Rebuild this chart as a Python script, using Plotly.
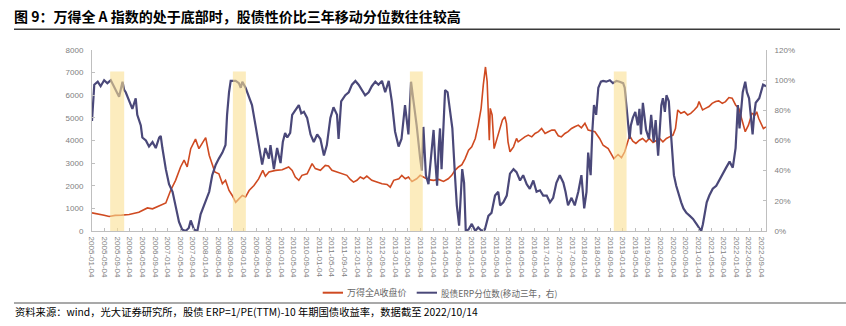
import plotly.graph_objects as go

# ---------------- data ----------------
wind_dates = [
    "2005-01-04", "2005-03-01", "2005-05-01", "2005-06-18", "2005-08-15", "2005-10-15", "2005-12-28",
    "2006-03-31", "2006-06-22", "2006-08-10", "2006-10-13", "2006-12-16", "2007-01-31", "2007-03-20",
    "2007-05-07", "2007-06-10", "2007-07-10", "2007-08-13", "2007-09-28", "2007-10-31", "2007-12-01",
    "2008-01-04", "2008-02-07", "2008-03-07", "2008-04-01", "2008-05-10", "2008-06-13", "2008-07-13",
    "2008-08-16", "2008-09-16", "2008-10-19", "2008-11-19", "2008-12-22", "2009-01-22", "2009-02-25",
    "2009-04-13", "2009-05-28", "2009-07-07", "2009-08-01", "2009-09-04", "2009-11-07", "2010-01-10",
    "2010-03-13", "2010-04-16", "2010-05-16", "2010-06-19", "2010-07-19", "2010-09-07", "2010-10-25",
    "2010-11-25", "2011-01-13", "2011-03-01", "2011-04-01", "2011-05-04", "2011-06-22", "2011-08-10",
    "2011-09-25", "2011-10-28", "2011-11-28", "2011-12-31", "2012-02-01", "2012-03-04", "2012-04-04",
    "2012-05-22", "2012-07-10", "2012-08-28", "2012-10-16", "2012-11-16", "2012-12-19", "2013-02-07",
    "2013-03-07", "2013-04-10", "2013-05-10", "2013-06-13", "2013-07-28", "2013-08-31", "2013-10-01",
    "2013-11-19", "2014-01-07", "2014-02-25", "2014-04-13", "2014-05-28", "2014-07-01", "2014-08-01",
    "2014-09-04", "2014-10-07", "2014-11-07", "2014-12-10", "2015-01-10", "2015-02-13", "2015-03-13",
    "2015-04-10", "2015-05-01", "2015-05-22", "2015-06-07", "2015-06-19", "2015-06-28", "2015-07-07",
    "2015-07-25", "2015-08-13", "2015-09-07", "2015-10-10", "2015-11-01", "2015-11-25", "2015-12-10",
    "2015-12-25", "2016-01-13", "2016-02-16", "2016-03-16", "2016-04-01", "2016-05-04", "2016-06-04",
    "2016-07-07", "2016-08-10", "2016-09-10", "2016-10-13", "2016-11-13", "2016-12-16", "2017-01-16",
    "2017-02-19", "2017-03-19", "2017-04-22", "2017-05-22", "2017-06-25", "2017-07-25", "2017-08-28",
    "2017-09-28", "2017-11-01", "2017-12-01", "2018-01-04", "2018-02-04", "2018-03-07", "2018-04-10",
    "2018-05-25", "2018-06-28", "2018-08-16", "2018-10-10", "2018-11-19", "2018-12-22", "2019-01-22",
    "2019-02-16", "2019-03-10", "2019-04-10", "2019-05-10", "2019-06-13", "2019-07-13", "2019-08-16",
    "2019-09-16", "2019-10-22", "2019-11-22", "2019-12-25", "2020-01-25", "2020-02-28", "2020-03-28",
    "2020-05-01", "2020-05-25", "2020-06-16", "2020-07-16", "2020-08-19", "2020-09-19", "2020-10-19",
    "2020-11-22", "2020-12-22", "2021-01-07", "2021-02-10", "2021-03-10", "2021-04-13", "2021-05-13",
    "2021-06-16", "2021-07-16", "2021-08-19", "2021-09-19", "2021-10-22", "2021-11-22", "2021-12-25",
    "2022-01-25", "2022-02-10", "2022-02-25", "2022-03-28", "2022-04-28", "2022-06-01", "2022-07-01",
    "2022-07-16", "2022-08-04", "2022-09-04", "2022-09-19", "2022-10-14",
]
wind_close = [
    800, 760, 700, 640, 690, 700, 726,
    830, 1020, 980, 1100, 1240, 1790, 2240,
    2830, 3130, 2830, 3640, 4060, 3640, 3870,
    4130, 3350, 2980, 2610, 2530, 2090, 2240,
    1790, 1570, 1270, 1420, 1570, 1500, 1790,
    2010, 2300, 2680, 2420, 2610, 2680, 2710,
    2830, 2680, 2385, 2240, 2460, 2530, 2980,
    2760, 2680, 2900, 2870, 2680, 2610, 2530,
    2460, 2280, 2160, 2240, 2385, 2310, 2430,
    2240, 2160, 2090, 2060, 1940, 2240, 2310,
    2460, 2310, 2385, 2190, 2310, 2460, 2385,
    2270, 2240, 2280, 2190, 2310, 2460, 2680,
    2830, 2930, 3200, 3570, 3720, 4090, 4680,
    5420, 6460, 7250, 6610, 4830, 4010, 5420,
    5130, 3640, 4010, 4530, 4900, 5050, 4760,
    3940, 3500, 3720, 4090, 3940, 4060, 4160,
    4240, 4160, 4310, 4390, 4530, 4310, 4390,
    4460, 4460, 4210, 4160, 4310, 4390, 4530,
    4610, 4680, 4560, 4760, 4460, 4410, 4390,
    4090, 3790, 3640, 3200, 3380, 3240, 3500,
    3940, 4210, 3970, 3870, 4010, 4090, 3940,
    4090, 3910, 4010, 4090, 3940, 4090, 4160,
    4240, 4530, 5350, 5200, 5270, 5130, 5200,
    5350, 5500, 5720, 5350, 5420, 5500, 5640,
    5720, 5750, 5640, 5720, 5900, 5870, 5570,
    5420, 5130, 4980, 4390, 4680, 5200, 5130,
    5270, 4980, 4680, 4530, 4600,
]

erp_dates = [
    "2005-01-04", "2005-01-17", "2005-01-26", "2005-02-28", "2005-03-28", "2005-05-01", "2005-06-01",
    "2005-07-04", "2005-07-19", "2005-08-22", "2005-09-22", "2005-10-25", "2005-11-10", "2005-11-25",
    "2005-12-28", "2006-01-28", "2006-03-01", "2006-03-16", "2006-04-19", "2006-05-04", "2006-06-07",
    "2006-07-07", "2006-08-10", "2006-09-10", "2006-10-13", "2006-10-28", "2006-11-13", "2006-12-16",
    "2007-01-16", "2007-02-19", "2007-03-19", "2007-04-22", "2007-05-22", "2007-06-25", "2007-07-25",
    "2007-08-13", "2007-09-13", "2007-10-16", "2007-11-16", "2007-12-10", "2008-01-04", "2008-02-07",
    "2008-03-07", "2008-04-10", "2008-05-10", "2008-06-13", "2008-07-13", "2008-07-28", "2008-08-16",
    "2008-09-01", "2008-10-19", "2008-11-19", "2008-12-07", "2008-12-22", "2009-01-22", "2009-02-25",
    "2009-03-25", "2009-04-28", "2009-05-28", "2009-07-01", "2009-08-01", "2009-09-04", "2009-09-19",
    "2009-10-22", "2009-11-22", "2009-12-25", "2010-01-16", "2010-02-07", "2010-02-28", "2010-03-28",
    "2010-04-16", "2010-05-16", "2010-06-19", "2010-07-13", "2010-08-07", "2010-09-07", "2010-10-10",
    "2010-11-10", "2010-12-13", "2011-01-13", "2011-02-16", "2011-03-16", "2011-04-19", "2011-05-19",
    "2011-06-22", "2011-07-07", "2011-08-01", "2011-09-10", "2011-10-13", "2011-11-13", "2011-12-16",
    "2012-01-16", "2012-02-19", "2012-03-19", "2012-04-22", "2012-05-22", "2012-06-25", "2012-07-25",
    "2012-08-28", "2012-09-28", "2012-11-01", "2012-12-01", "2013-01-01", "2013-02-04", "2013-03-04",
    "2013-04-07", "2013-05-10", "2013-06-04", "2013-06-28", "2013-07-28", "2013-08-31", "2013-09-16",
    "2013-10-01", "2013-10-25", "2013-11-19", "2013-12-22", "2014-01-07", "2014-01-22", "2014-02-10",
    "2014-02-25", "2014-03-10", "2014-03-25", "2014-04-13", "2014-04-28", "2014-05-22", "2014-06-13",
    "2014-07-07", "2014-08-01", "2014-08-19", "2014-09-10", "2014-09-25", "2014-10-10", "2014-10-28",
    "2014-11-13", "2014-12-10", "2015-01-10", "2015-02-13", "2015-03-13", "2015-04-16", "2015-05-16",
    "2015-06-19", "2015-07-19", "2015-08-22", "2015-09-22", "2015-10-10", "2015-11-10", "2015-12-13",
    "2016-01-13", "2016-02-16", "2016-03-16", "2016-04-19", "2016-05-19", "2016-06-22", "2016-07-22",
    "2016-08-25", "2016-09-25", "2016-10-28", "2016-11-28", "2017-01-01", "2017-02-01", "2017-03-04",
    "2017-04-04", "2017-05-07", "2017-06-10", "2017-07-01", "2017-07-25", "2017-08-28", "2017-09-28",
    "2017-11-01", "2017-12-01", "2017-12-28", "2018-01-19", "2018-02-04", "2018-02-28", "2018-03-16",
    "2018-04-01", "2018-04-22", "2018-05-13", "2018-06-07", "2018-06-28", "2018-07-28", "2018-09-01",
    "2018-10-01", "2018-11-04", "2018-12-04", "2019-01-07", "2019-01-22", "2019-02-10", "2019-02-22",
    "2019-03-10", "2019-03-22", "2019-04-10", "2019-05-04", "2019-05-28", "2019-06-13", "2019-06-28",
    "2019-07-16", "2019-08-01", "2019-08-16", "2019-09-13", "2019-10-04", "2019-10-28", "2019-11-16",
    "2019-12-10", "2019-12-25", "2020-01-10", "2020-01-25", "2020-02-13", "2020-02-28", "2020-03-22",
    "2020-04-04", "2020-04-25", "2020-05-10", "2020-06-01", "2020-06-28", "2020-07-19", "2020-08-10",
    "2020-09-07", "2020-10-10", "2020-11-10", "2020-12-13", "2021-01-07", "2021-01-28", "2021-02-13",
    "2021-03-01", "2021-03-22", "2021-04-16", "2021-05-19", "2021-06-22", "2021-07-22", "2021-08-25",
    "2021-09-25", "2021-10-28", "2021-11-28", "2021-12-25", "2022-01-16", "2022-02-01", "2022-02-16",
    "2022-03-04", "2022-03-28", "2022-04-13", "2022-05-04", "2022-05-19", "2022-06-07", "2022-06-22",
    "2022-07-07", "2022-08-10", "2022-08-25", "2022-09-16", "2022-10-14",
]
erp_pct = [
    73, 90, 97, 99, 96, 100, 98,
    100, 98, 93.5, 89, 99, 93.5, 92,
    86, 81, 88, 77, 70, 62, 60,
    56, 59, 55, 62, 63, 55, 41,
    31, 26, 17, 6, 1, 0, 2,
    7, 1, 0, 11, 15, 20, 26,
    37, 44, 48, 52, 57, 77, 92,
    99.5, 99.5, 98, 95, 99, 95, 88,
    83.5, 70, 59, 44, 55, 48, 57,
    41, 55, 45, 59, 65, 62, 65,
    77, 80, 83.5, 78, 79, 75, 64,
    59, 64, 61, 50, 57, 75, 82,
    77, 61, 86, 90, 92, 97, 99.5,
    97, 93.5, 90, 92, 96, 99, 97,
    99.5, 92, 99.5, 86, 66, 56, 61,
    83.5, 64, 99, 86, 70, 48, 40,
    69, 37, 31, 59, 67, 48, 30,
    55, 68, 41, 77, 93.5, 92, 79,
    68, 37, 17, 3.5, 23.5, 41, 32,
    0, 1, 4.7, 0, 2.4, 0, 1,
    10, 12, 23.5, 26, 17, 19, 23.5,
    38, 41, 39, 33.5, 37, 31, 28,
    33.5, 26, 27, 23.5, 23.5, 19, 22,
    32, 37, 32, 26, 17, 22, 17,
    26, 37, 15, 26, 52, 37, 66,
    83.5, 77, 95, 99, 99.5, 99, 100,
    98, 99.5, 99, 98, 95, 80, 70,
    61, 70, 75, 79, 70, 81, 64,
    85, 77, 67, 61, 77, 59, 73.5,
    50, 70, 83.5, 88, 79, 90, 86,
    72, 52, 37, 30, 23.5, 19, 15,
    12, 10, 8, 4.7, 2.4, 0, 4.5,
    12, 19, 23.5, 28, 30, 33.5, 38,
    42, 46, 42, 55, 83.5, 68, 81,
    92, 99, 92, 88, 77, 64, 77,
    85, 88, 92, 97, 96,
]

# bottom periods highlighted in yellow
band_start = ["2005-06-28", "2008-09-22", "2013-05-24", "2018-10-09"]
band_end = ["2005-11-10", "2009-01-25", "2013-09-25", "2019-02-09"]
band_top = 7050

x_tick_labels = [
    "2005-01-04", "2005-05-04", "2005-09-04", "2006-01-04", "2006-05-04", "2006-09-04",
    "2007-01-04", "2007-05-04", "2007-09-04", "2008-01-04", "2008-05-04", "2008-09-04",
    "2009-01-04", "2009-05-04", "2009-09-04", "2010-01-04", "2010-05-04", "2010-09-04",
    "2011-01-04", "2011-05-04", "2011-09-04", "2012-01-04", "2012-05-04", "2012-09-04",
    "2013-01-04", "2013-05-04", "2013-09-04", "2014-01-04", "2014-05-04", "2014-09-04",
    "2015-01-04", "2015-05-04", "2015-09-04", "2016-01-04", "2016-05-04", "2016-09-04",
    "2017-01-04", "2017-05-04", "2017-09-04", "2018-01-04", "2018-05-04", "2018-09-04",
    "2019-01-04", "2019-05-04", "2019-09-04", "2020-01-04", "2020-05-04", "2020-09-04",
    "2021-01-04", "2021-05-04", "2021-09-04", "2022-01-04", "2022-05-04", "2022-09-04",
]
left_ticks = [0, 1000, 2000, 3000, 4000, 5000, 6000, 7000, 8000]
right_ticks = [0, 20, 40, 60, 80, 100, 120]
right_tick_labels = ["0%", "20%", "40%", "60%", "80%", "100%", "120%"]

title_text = "图 9：万得全 A 指数的处于底部时，股债性价比三年移动分位数往往较高"
source_text = "资料来源：wind，光大证券研究所，股债 ERP=1/PE(TTM)-10 年期国债收益率，数据截至 2022/10/14"
name_wind = "万得全A收盘价"
name_erp = "股债ERP分位数(移动三年，右)"

# ---------------- styling ----------------
ORANGE = "#CF4A21"
PURPLE = "#4A4879"
BAND = "#FADF93"
AXIS = "#BFBFBF"
TICKC = "#808080"
CJK = "Noto Sans CJK SC"
LAT = "Liberation Sans"

W, H = 846, 326
L, R, T, B = 92, 766, 50, 231


def px_x(p):
    return (p - L) / (R - L)


def px_y(p):
    return (B - p) / (B - T)


fig = go.Figure()
fig.add_trace(go.Scatter(x=wind_dates, y=wind_close, mode="lines", name=name_wind,
                         line=dict(color=ORANGE, width=1.6), yaxis="y"))
fig.add_trace(go.Scatter(x=erp_dates, y=erp_pct, mode="lines", name=name_erp,
                         line=dict(color=PURPLE, width=2.2), yaxis="y2"))

shapes = []
for s, e in zip(band_start, band_end):
    shapes.append(dict(type="rect", xref="x", yref="y", x0=s, x1=e, y0=0, y1=band_top,
                       fillcolor=BAND, opacity=0.6, line=dict(width=0), layer="above"))

# title and source rules
shapes.append(dict(type="line", xref="paper", yref="paper", x0=px_x(14), x1=px_x(840),
                   y0=px_y(29.3), y1=px_y(29.3), line=dict(color="#3a3a3a", width=1.5)))
shapes.append(dict(type="line", xref="paper", yref="paper", x0=px_x(14), x1=px_x(846),
                   y0=px_y(303), y1=px_y(303), line=dict(color="#555555", width=1.2)))
# legend samples
LEG_Y = 292.7
shapes.append(dict(type="line", xref="paper", yref="paper", x0=px_x(322.7), x1=px_x(343),
                   y0=px_y(LEG_Y), y1=px_y(LEG_Y), line=dict(color=ORANGE, width=2)))
shapes.append(dict(type="line", xref="paper", yref="paper", x0=px_x(416.7), x1=px_x(437),
                   y0=px_y(LEG_Y), y1=px_y(LEG_Y), line=dict(color=PURPLE, width=2)))

annotations = [
    dict(text=name_wind, xref="paper", yref="paper", x=px_x(345), y=px_y(LEG_Y),
         xanchor="left", yanchor="middle", showarrow=False,
         font=dict(family=CJK, size=9, color="#666666")),
    dict(text=name_erp, xref="paper", yref="paper", x=px_x(439), y=px_y(LEG_Y),
         xanchor="left", yanchor="middle", showarrow=False,
         font=dict(family=CJK, size=8.6, color="#666666")),
    dict(text=source_text, xref="paper", yref="paper", x=px_x(13), y=px_y(311),
         xanchor="left", yanchor="middle", showarrow=False,
         font=dict(family=CJK, size=10.3, color="#000000")),
]

fig.update_layout(
    width=W, height=H, autosize=False,
    margin=dict(l=L, r=W - R, t=T, b=H - B, pad=0),
    paper_bgcolor="white", plot_bgcolor="white",
    showlegend=False,
    title=dict(text="<b>" + title_text + "</b>", xref="container", yref="container",
               x=14 / W, xanchor="left", y=1 - 17 / H, yanchor="middle",
               font=dict(family=CJK, size=14, color="#000000")),
    xaxis=dict(type="date", range=["2005-01-04", "2022-10-14"],
               tickvals=x_tick_labels, ticktext=x_tick_labels, tickangle=90,
               tickfont=dict(family=LAT, size=8, color=TICKC),
               showgrid=False, zeroline=False, showline=True, linecolor=AXIS, linewidth=1,
               ticks="inside", ticklen=3, tickcolor=AXIS, ticklabelstandoff=3),
    yaxis=dict(range=[0, 8000], tickvals=left_ticks,
               tickfont=dict(family=LAT, size=8, color=TICKC),
               showgrid=False, zeroline=False, showline=True, linecolor=AXIS, linewidth=1,
               ticks="inside", ticklen=3, tickcolor=AXIS, ticklabelstandoff=6),
    yaxis2=dict(range=[0, 120], tickvals=right_ticks, ticktext=right_tick_labels,
                overlaying="y", side="right",
                tickfont=dict(family=LAT, size=8, color=TICKC),
                showgrid=False, zeroline=False, showline=True, linecolor=AXIS, linewidth=1,
                ticks="inside", ticklen=3, tickcolor=AXIS, ticklabelstandoff=6),
    shapes=shapes,
    annotations=annotations,
)

fig.write_html("out.html")
